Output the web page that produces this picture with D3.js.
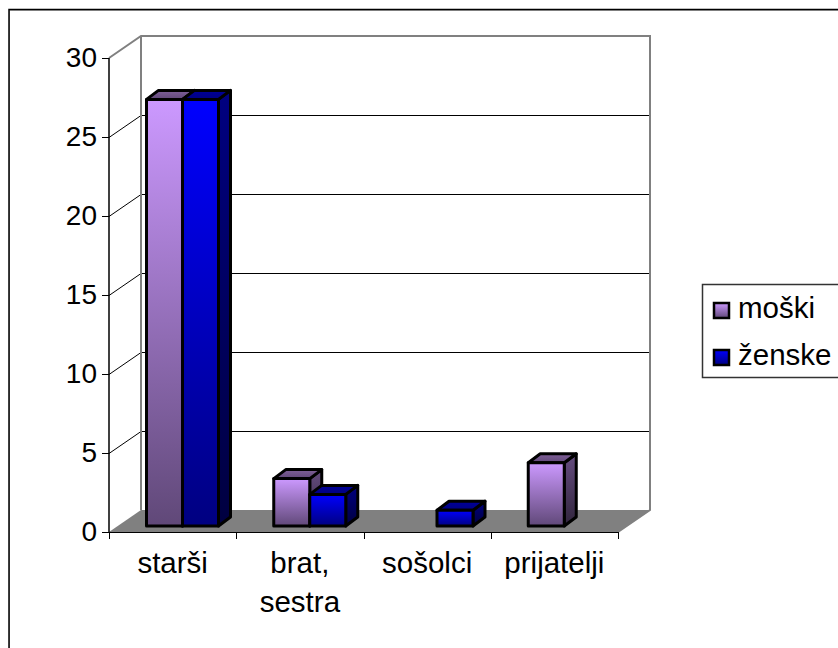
<!DOCTYPE html>
<html><head><meta charset="utf-8">
<script src="https://cdn.jsdelivr.net/npm/d3@7"></script>
<style>html,body{margin:0;padding:0;background:#fff;overflow:hidden}svg{display:block}text{font-family:"Liberation Sans",Arial,sans-serif;fill:#000}</style>
</head><body><div id="c"></div>
<script>
const categories = ["starši", "brat, sestra", "sošolci", "prijatelji"];
const seriesNames = ["moški", "ženske"];
const moski = [27, 3, 0, 4];
const zenske = [27, 2, 1, 0];
const yTicks = [0, 5, 10, 15, 20, 25, 30];

const W = 838, H = 648;
const svg = d3.select("#c").append("svg").attr("width", W).attr("height", H);
const x = d3.scaleBand().domain(categories).range([109, 618]);
const y = d3.scaleLinear().domain([0, 30]).range([532, 58]);
const depthX = 32, depthY = 22;

const defs = svg.append("defs");
function grad(id, a, b) {
  const g = defs.append("linearGradient").attr("id", id).attr("x1", 0).attr("y1", 0).attr("x2", 0).attr("y2", 1);
  g.append("stop").attr("offset", 0).attr("stop-color", a);
  g.append("stop").attr("offset", 1).attr("stop-color", b);
}
grad("m-front", "#cc99ff", "#604878");
grad("m-side", "#664d80", "#30243c");
grad("m-top", "#806099", "#604878");
grad("z-front", "#0000ff", "#000080");
grad("z-side", "#000080", "#000040");
grad("z-top", "#000099", "#000080");
const styles = [{f:"url(#m-front)",s:"url(#m-side)",t:"url(#m-top)"},{f:"url(#z-front)",s:"url(#z-side)",t:"url(#z-top)"}];

// frame
svg.append("rect").attr("x", 9.5).attr("y", 10.5).attr("width", 840).attr("height", 660).attr("fill", "none").attr("stroke", "#aaa").attr("stroke-width", 1);
svg.append("rect").attr("x", 9).attr("y", 9.5).attr("width", 840).attr("height", 660).attr("fill", "none").attr("stroke", "#000").attr("stroke-width", 1.5);

// floor
const y0 = y(0);
svg.append("path").attr("d", d3.line()([[x.range()[0], y0], [x.range()[0] + depthX, y0 - depthY], [x.range()[1] + depthX, y0 - depthY], [x.range()[1], y0]]) + "Z").attr("fill", "#808080");

// grid
yTicks.slice(1, -1).forEach(v => {
  svg.append("path").attr("fill", "none").attr("stroke", "#000").attr("stroke-width", 1)
    .attr("d", d3.line()([[x.range()[0], y(v) + .5], [x.range()[0] + depthX, y(v) - depthY + .5], [x.range()[1] + depthX, y(v) - depthY + .5]]));
});
// walls
svg.append("path").attr("fill", "none").attr("stroke", "#808080").attr("stroke-width", 2)
  .attr("d", d3.line()([[x.range()[0], y(30)], [x.range()[0] + depthX, y(30) - depthY], [x.range()[1] + depthX, y(30) - depthY], [x.range()[1] + depthX, y0 - depthY], [x.range()[1], y0]]));
svg.append("path").attr("fill", "none").attr("stroke", "#808080").attr("stroke-width", 2)
  .attr("d", d3.line()([[x.range()[0] + depthX, y(30) - depthY], [x.range()[0] + depthX, y0 - depthY]]));

// axes
const ay = d3.axisLeft(y).tickValues(yTicks).tickSize(7).tickPadding(5);
const gy = svg.append("g").attr("transform", `translate(${x.range()[0]},0)`).call(ay);
gy.selectAll("path,line").attr("stroke", "#000");
gy.select(".domain").attr("stroke-width", 1.5).attr("d", `M0,${y(30)}V${y0}`);
gy.selectAll("text").style("font-size", "28px").style("font-family", '"Liberation Sans"');

const bx = d3.scaleLinear().domain([0, categories.length]).range(x.range());
svg.append("path").attr("stroke", "#000").attr("fill", "none").attr("stroke-width", 1)
  .attr("d", `M${bx(0)},${y0+.5}H${bx(4)}`);
d3.range(0, 5).forEach(i => {
  svg.append("line").attr("x1", Math.round(bx(i)) + .5).attr("x2", Math.round(bx(i)) + .5).attr("y1", y0).attr("y2", y0 + 7).attr("stroke", "#000");
});

// bars
const barW = 36, dx = 12, dy = 9, baseLift = 6, slotPad = 37.5;
function bar(px, v, st) {
  const b = y(0) - baseLift, t = y(v) - baseLift;
  const g = svg.append("g").attr("stroke", "#000").attr("stroke-width", 3).attr("stroke-linejoin", "round");
  g.append("path").attr("fill", st.s).attr("d", d3.line()([[px + barW, t], [px + barW + dx, t - dy], [px + barW + dx, b - dy], [px + barW, b]]) + "Z");
  g.append("path").attr("fill", st.t).attr("d", d3.line()([[px, t], [px + dx, t - dy], [px + barW + dx, t - dy], [px + barW, t]]) + "Z");
  g.append("rect").attr("x", px).attr("y", t).attr("width", barW).attr("height", b - t).attr("fill", st.f);
}
categories.forEach((c, i) => {
  const start = x(c) + slotPad;
  if (moski[i] > 0) bar(start, moski[i], styles[0]);
  if (zenske[i] > 0) bar(start + barW, zenske[i], styles[1]);
});

// category labels
categories.forEach(c => {
  const cx = x(c) + x.bandwidth() / 2;
  const lines = c === "brat, sestra" ? ["brat,", "sestra"] : [c];
  lines.forEach((l, k) => svg.append("text").attr("x", cx).attr("y", 573 + k * 39).attr("text-anchor", "middle").style("font-size", "29.5px").text(l));
});

// legend
svg.append("rect").attr("x", 702.5).attr("y", 284.5).attr("width", 160).attr("height", 93).attr("fill", "#fff").attr("stroke", "#333").attr("stroke-width", 1.5);
seriesNames.forEach((n, i) => {
  const ly = 303 + i * 47;
  svg.append("rect").attr("x", 714).attr("y", ly).attr("width", 15).attr("height", 15).attr("fill", i ? "url(#z-front)" : "url(#m-front)").attr("stroke", "#000").attr("stroke-width", 2.5);
  svg.append("text").attr("x", 738).attr("y", ly + 15).style("font-size", "29.5px").text(n);
});
</script></body></html>
